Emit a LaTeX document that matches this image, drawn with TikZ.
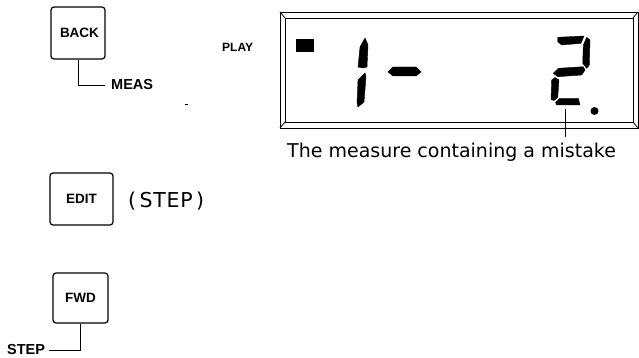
\documentclass[tikz,border=0pt]{standalone}
\usepackage{fontspec}
\setmainfont{Liberation Sans}
\newfontfamily\dejavu{DejaVu Sans}
\begin{document}
\begin{tikzpicture}[x=1pt,y=-1pt,
  keybox/.style={draw,line width=1.2pt,rounded corners=3pt,inner sep=0pt,font=\bfseries\fontsize{13.5}{14}\selectfont},
  keylabel/.style={inner sep=0pt,font=\bfseries\fontsize{14.5}{15}\selectfont},
  seg/.style={fill=black,draw=black,line width=0.4pt},
  frameline/.style={line width=0.8pt},
  lead/.style={line width=0.9pt}]
\useasboundingbox (0,0) rectangle (639,358);
% keys
\node[keybox,minimum width=54pt,minimum height=52pt] (back) at (78,33) {\hspace*{3pt}BACK};
\node[keybox,minimum width=63pt,minimum height=52pt] (edit) at (81.5,199) {EDIT};
\node[keybox,minimum width=55pt,minimum height=50pt] (fwd) at (80.5,298) {FWD};
% labels
\node[keylabel,anchor=west] (meas) at (111,85) {MEAS};
\node[keylabel,anchor=west] (step) at (7,350) {STEP};
\node[inner sep=0pt,anchor=west,font=\bfseries\fontsize{12}{13}\selectfont] (play) at (222,47.5) {PLAY};
\node[inner sep=0pt,anchor=base west,font=\dejavu\fontsize{20.5}{22}\selectfont] (steptxt) at (128,207) {(\kern3.5pt S\kern.7pt T\kern.7pt E\kern.7pt P\kern3.5pt)};
% connectors
\draw[lead] (back.south) |- ([xshift=-6pt]meas.west);
\draw[lead] (fwd.south) |- ([xshift=4pt]step.east);
% stray mark
\draw[line width=0.8pt] (185,104) -- (188,104);
% display frame
\draw[frameline] (280,12) rectangle (638,128);
\draw[frameline] (285,18) rectangle (633,122);
\draw[frameline] (280,12) -- (285,18) (638,12) -- (633,18) (280,128) -- (285,122) (638,128) -- (633,122);
% indicator
\fill (296,39) rectangle (314,52);
% digit 1
\filldraw[seg] (365,38) -- (368,45) -- (367,67) -- (363,68) -- (358,67) -- (360,47) -- cycle;
\filldraw[seg] (365,73) -- (366,77) -- (364,102) -- (358,107) -- (357,103) -- (358,80) -- cycle;
% dash
\filldraw[seg] (388,72) -- (393,67) -- (416,67) -- (421,72) -- (416,76) -- (393,76) -- cycle;
% digit 2
\filldraw[seg] (557.7,37.3) -- (584,36) -- (581,43.3) -- (561.7,45) -- (557.7,41.7) -- cycle;
\filldraw[seg] (586.7,37.3) -- (590,40) -- (589.3,65) -- (586.7,68.3) -- (582.7,63.3) -- (583.3,45) -- cycle;
\filldraw[seg] (553.3,73.3) -- (558.3,68.3) -- (583.3,66.7) -- (585,70) -- (581.7,75) -- (557.7,76.7) -- cycle;
\filldraw[seg] (555,77.5) -- (559,80) -- (557.7,97.5) -- (554,100.5) -- (551,99.5) -- (551.7,80) -- cycle;
\filldraw[seg] (555.5,102.5) -- (559.5,98.3) -- (578.3,98.3) -- (580,105) -- (556.7,105) -- cycle;
% decimal point
\fill (594.5,111) circle (4);
% caption
\node[inner sep=0pt,anchor=base west,font=\dejavu\fontsize{19}{21}\selectfont] (caption) at (287,158) {The measure containing a mistake};
\coordinate (two) at (565.7,109);
\draw[lead] (two) -- (two |- 0,137);
\end{tikzpicture}
\end{document}
